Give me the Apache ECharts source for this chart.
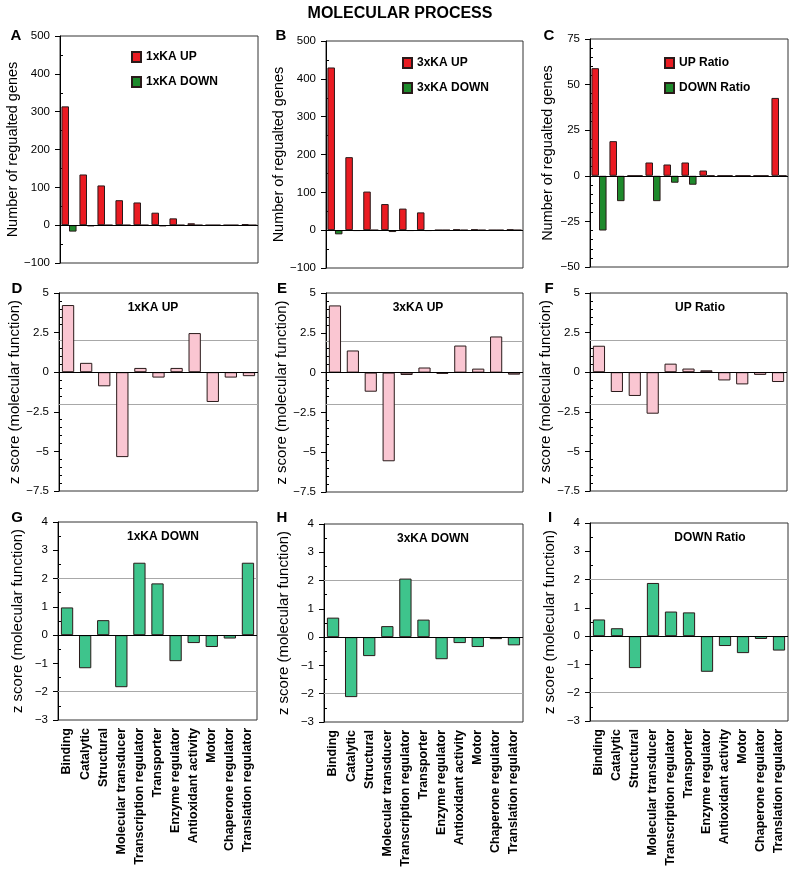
<!DOCTYPE html>
<html>
<head>
<meta charset="utf-8">
<script src="https://cdn.jsdelivr.net/npm/echarts@6/dist/echarts.min.js"></script>
<style>
html,body{margin:0;padding:0;background:#fff;}
#c{width:800px;height:870px;}
</style>
</head>
<body>
<div id="c"></div>
<script>
const categories = ['Binding','Catalytic','Structural','Molecular transducer','Transcription regulator','Transporter','Enzyme regulator','Antioxidant activity','Motor','Chaperone regulator','Translation regulator'];

const up1x = [314,134,105,66,60,33,18,5,0,0,3];
const down1x = [-17,-3,0,0,0,-3,0,0,0,0,0];
const up3x = [430,193,102,69,57,47,0,2,2,0,2];
const down3x = [-11,-2,0,-5,-2,-2,0,0,0,0,0];
const upRatio = [59,19,0,7.3,6.2,7.3,2.9,0,0,0,42.7];
const downRatio = [-30,-13.9,0,-13.9,-3.8,-4.9,0,0,0,0,0];

const zUp1x = [4.24,0.59,-0.89,-5.36,0.27,-0.34,0.27,2.47,-1.88,-0.34,-0.25];
const zUp3x = [4.22,1.39,-1.2,-5.57,-0.15,0.32,-0.08,1.7,0.25,2.27,-0.13];
const zUpRatio = [1.67,-1.25,-1.5,-2.62,0.54,0.23,0.12,-0.52,-0.77,-0.17,-0.62];
const zDown1x = [0.98,-1.17,0.53,-1.84,2.56,1.83,-0.92,-0.28,-0.42,-0.12,2.56];
const zDown3x = [0.69,-2.12,-0.67,0.39,2.07,0.62,-0.78,-0.21,-0.35,-0.07,-0.29];
const zDownRatio = [0.59,0.28,-1.13,1.88,0.87,0.84,-1.26,-0.35,-0.6,-0.1,-0.51];

const mainTitle = 'MOLECULAR PROCESS';
const countAxisName = 'Number of regualted genes';
const zAxisName = 'z score (molecular function)';
const panelLetters = ['A','B','C','D','E','F','G','H','I'];
const panelTitles = ['1xKA UP','3xKA UP','UP Ratio','1xKA DOWN','3xKA DOWN','DOWN Ratio'];

const FONT = 'Liberation Sans, Arial, sans-serif';
const RED = '#ea1b22', GREEN = '#1e8a2c', PINK = '#fac6d2', TEAL = '#3ec48c';

const grids = [
  {left:60, top:36, width:198, height:227},
  {left:326, top:41, width:197, height:227},
  {left:590, top:39, width:198, height:228},
  {left:59, top:293, width:199, height:198},
  {left:326, top:293, width:197, height:199},
  {left:590, top:293, width:197, height:198},
  {left:58, top:522, width:199, height:198},
  {left:324, top:524, width:199, height:198},
  {left:590, top:523, width:198, height:198}
];

const yCfg = [
  {min:-100,max:500,interval:100,minor:2,name:countAxisName},
  {min:-100,max:500,interval:100,minor:2,name:countAxisName},
  {min:-50,max:75,interval:25,minor:5,name:countAxisName},
  {min:-7.5,max:5,interval:2.5,minor:5,name:zAxisName},
  {min:-7.5,max:5,interval:2.5,minor:5,name:zAxisName},
  {min:-7.5,max:5,interval:2.5,minor:5,name:zAxisName},
  {min:-3,max:4,interval:1,minor:2,name:zAxisName},
  {min:-3,max:4,interval:1,minor:2,name:zAxisName},
  {min:-3,max:4,interval:1,minor:2,name:zAxisName}
];

const mainY = yCfg.map((c,i) => ({
  type:'value', gridIndex:i, position:'left', min:c.min, max:c.max, interval:c.interval,
  name:c.name, nameLocation:'middle', nameGap:i<3?35:33,
  nameTextStyle:{fontSize:i<3?14.5:15, color:'#000', fontFamily:FONT},
  axisLine:{show:true, lineStyle:{color:'#000', width:1}},
  axisTick:{show:true, inside:false, length:5, lineStyle:{color:'#000'}},
  minorTick:{show:false},
  splitLine:{show:false},
  axisLabel:{fontSize:11.5, color:'#000', margin:10, fontFamily:FONT,
    formatter: v => String(v).replace('-', '\u2212')}
}));
// companion axes: only the inward minor ticks
const minorY = yCfg.map((c,i) => ({
  type:'value', gridIndex:i, position:'left', offset:0, min:c.min, max:c.max, interval:c.interval,
  axisLine:{show:false}, axisLabel:{show:false}, splitLine:{show:false},
  axisTick:{show:false, inside:true, length:3},
  minorTick:{show:true, splitNumber:c.minor, length:3, lineStyle:{color:'#000'}}
}));

const option = {
  backgroundColor:'#fff',
  animation:false,
  textStyle:{fontFamily:FONT},
  grid: grids.map(g => Object.assign({show:true,borderColor:'#333',borderWidth:1,backgroundColor:'transparent'}, g)),
  xAxis: grids.map((g,i) => ({
    type:'category', gridIndex:i, data:categories,
    axisLine:{show:false}, axisTick:{show:false},
    axisLabel:{show:i>=6, rotate:90, interval:0, fontSize:12.5, fontWeight:'bold', color:'#000', margin:8, fontFamily:FONT}
  })),
  yAxis: mainY.concat(minorY),
  legend: [
    {data:['1xKA UP','1xKA DOWN'], left:126, top:46},
    {data:['3xKA UP','3xKA DOWN'], left:397, top:52},
    {data:['UP Ratio','DOWN Ratio'], left:659, top:52}
  ].map(l => Object.assign({orient:'vertical', itemWidth:9, itemHeight:10, itemGap:13, icon:'rect',
    textStyle:{fontSize:12, fontWeight:'bold', color:'#000', fontFamily:FONT}}, l)),
  series: [],
  graphic: []
};

const zeroLine = {silent:true, symbol:'none', z:6, label:{show:false},
  lineStyle:{color:'#000', width:1.2, type:'solid'}, data:[{yAxis:0}]};

function barSeries(name, data, idx, color, extra){
  return Object.assign({
    name:name, type:'bar', data:data, xAxisIndex:idx, yAxisIndex:idx,
    itemStyle:{color:color, borderColor:'#2a1a1a', borderWidth:1},
    markLine: zeroLine
  }, extra||{});
}

const pairs = [[up1x,down1x,'1xKA UP','1xKA DOWN'],[up3x,down3x,'3xKA UP','3xKA DOWN'],[upRatio,downRatio,'UP Ratio','DOWN Ratio']];
pairs.forEach((p,i) => {
  option.series.push(barSeries(p[2], p[0], i, RED, {barGap:'0%', barCategoryGap:'16%'}));
  option.series.push(barSeries(p[3], p[1], i, GREEN, {barGap:'0%', barCategoryGap:'16%'}));
});

const zSets = [zUp1x, zUp3x, zUpRatio, zDown1x, zDown3x, zDownRatio];
zSets.forEach((d,k) => {
  const idx = k+3;
  option.series.push(barSeries('z'+idx, d, idx, k<3?PINK:TEAL, {barCategoryGap:'32%'}));
  option.series.push({type:'line', data:[], xAxisIndex:idx, yAxisIndex:idx, z:1,
    markLine:{silent:true, symbol:'none', z:1, label:{show:false},
      lineStyle:{color:'#a8a8a8', width:1, type:'solid'}, data:[{yAxis:2},{yAxis:-2}]}});
});

option.graphic.push({type:'text', x:400, y:14, style:{text:mainTitle, font:'bold 16px '+FONT, fill:'#000', textAlign:'center', textVerticalAlign:'middle'}});
const letterPos = [[16,36],[281,36],[549,36],[17,289],[282,289],[549,289],[17,518],[282,518],[550,518]];
letterPos.forEach((p,i) => option.graphic.push({type:'text', x:p[0], y:p[1],
  style:{text:panelLetters[i], font:'bold 15px '+FONT, fill:'#000', textAlign:'center', textVerticalAlign:'middle'}}));
const titlePos = [[153,308],[418,308],[700,308],[163,537],[433,539],[710,538]];
titlePos.forEach((p,i) => option.graphic.push({type:'text', x:p[0], y:p[1],
  style:{text:panelTitles[i], font:'bold 12px '+FONT, fill:'#000', textAlign:'center', textVerticalAlign:'middle'}}));

const chart = echarts.init(document.getElementById('c'), null, {renderer:'canvas'});
chart.setOption(option);
</script>
</body>
</html>
